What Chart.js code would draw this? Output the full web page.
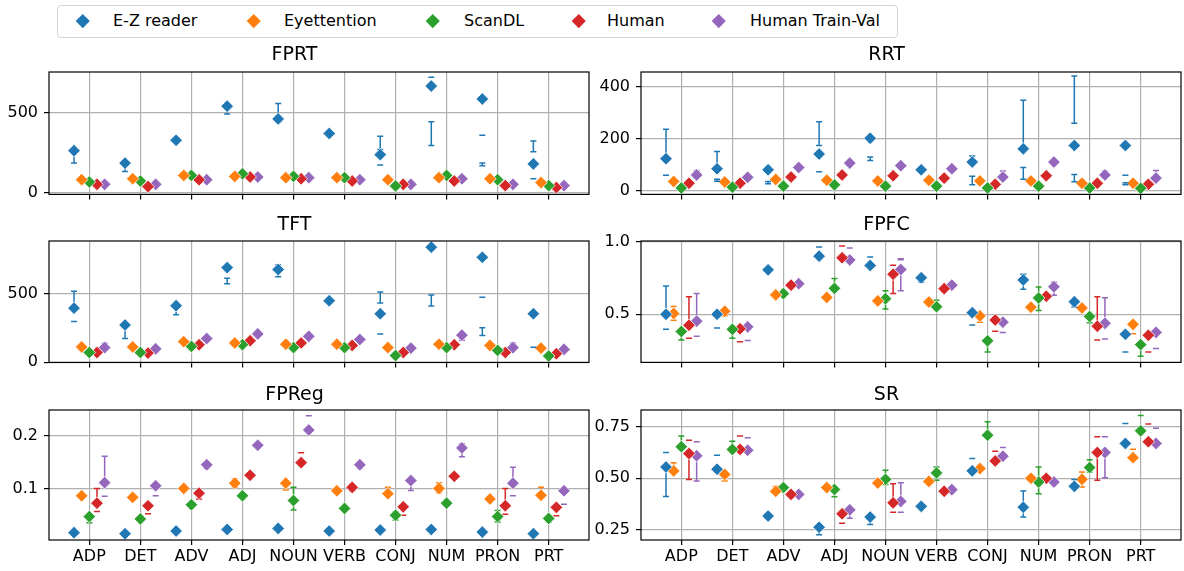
<!DOCTYPE html>
<html lang="en">
<head>
<meta charset="UTF-8" />
<title>Reading measures by POS</title>
<script src="https://cdn.jsdelivr.net/npm/chart.js"></script>
<style>
  body { margin: 0; background: #fff; font-family: "DejaVu Sans", sans-serif; }
  .wrap { position: relative; width: 1184px; height: 571px; overflow: hidden; }
  canvas { position: absolute; }
  .legend {
    position: absolute; left: 57px; top: 5px; width: 839px; height: 31px;
    border: 1px solid #d5d5d5; border-radius: 4px; background: #fff;
  }
  .legend .mk { position: absolute; top: 10px; width: 9.5px; height: 9.5px; transform: rotate(45deg); }
  .legend .lb { position: absolute; top: 5px; font-size: 16px; line-height: 20px; color: #000; white-space: nowrap; }
</style>
</head>
<body>
<div class="wrap">
  <div class="legend" id="legend"></div>
  <canvas id="fprt"  width="600" height="166" style="left:0;top:44px"></canvas>
  <canvas id="rrt"   width="592" height="166" style="left:592px;top:44px"></canvas>
  <canvas id="tft"   width="600" height="164" style="left:0;top:214px"></canvas>
  <canvas id="fpfc"  width="592" height="164" style="left:592px;top:214px"></canvas>
  <canvas id="fpreg" width="600" height="187" style="left:0;top:384px"></canvas>
  <canvas id="sr"    width="592" height="187" style="left:592px;top:384px"></canvas>
</div>

<script>
const categories = ['ADP', 'DET', 'ADV', 'ADJ', 'NOUN', 'VERB', 'CONJ', 'NUM', 'PRON', 'PRT'];
const seriesNames = ['E-Z reader', 'Eyettention', 'ScanDL', 'Human', 'Human Train-Val'];
const seriesColors = ['#1f77b4', '#ff7f0e', '#2ca02c', '#d62728', '#9467bd'];
const seriesOffsets = [-0.3, -0.15, 0, 0.15, 0.3];
const n = null;

// rows follow seriesNames; error entries are lists of [low, high] segments (low == high: lone cap)
const fprtTicks = [0, 500];
const fprtTickLabels = ['0', '500'];
const fprtValues = [
  [262, 184, 327, 541, 461, 370, 237, 667, 586, 179],
  [80, 86, 107, 101, 93, 93, 80, 93, 86, 62],
  [66, 72, 107, 117, 101, 93, 41, 107, 80, 43],
  [51, 37, 80, 97, 86, 72, 51, 72, 43, 31],
  [51, 51, 80, 97, 93, 80, 51, 86, 51, 43]
];
const fprtErrors = [
  [[[185, 262]], [[132, 184]], n, [[492, 541]], [[440, 558]], [[352, 370]], [[270, 352], [173, 173]], [[722, 722], [294, 444]], [[358, 358], [167, 185]], [[255, 323], [86, 86]]],
  n, n, n, n
];

const rrtTicks = [0, 200, 400];
const rrtTickLabels = ['0', '200', '400'];
const rrtValues = [
  [123, 84, 80, 141, 202, 80, 110, 161, 174, 174],
  [35, 33, 43, 40, 37, 40, 37, 37, 28, 28],
  [10, 13, 17, 22, 17, 17, 10, 17, 10, 9],
  [28, 28, 52, 60, 57, 48, 24, 57, 28, 24],
  [60, 51, 89, 106, 96, 84, 52, 110, 60, 48]
];
const rrtErrors = [
  [[[123, 237], [59, 59]], [[84, 151], [36, 44]], [[26, 35]], [[174, 266], [73, 73]], [[116, 130]], n, [[110, 133], [22, 55]], [[161, 349], [44, 89]], [[260, 443], [34, 62]], [[59, 59], [22, 30]]],
  n, n, n,
  [[[60, 77]], n, n, n, n, n, [[52, 75]], n, [[60, 75]], [[48, 77]]]
];

const tftTicks = [0, 500];
const tftTickLabels = ['0', '500'];
const tftValues = [
  [394, 271, 412, 690, 676, 448, 353, 839, 765, 353],
  [111, 111, 149, 140, 131, 131, 106, 131, 122, 102],
  [70, 70, 115, 127, 106, 106, 48, 106, 86, 45],
  [70, 66, 127, 156, 140, 122, 70, 127, 70, 61],
  [106, 97, 172, 206, 188, 165, 102, 197, 106, 93]
];
const tftErrors = [
  [[[394, 518], [296, 296]], [[172, 271]], [[346, 412]], [[572, 613]], [[624, 708]], n, [[432, 511], [206, 206]], [[409, 489]], [[473, 473], [195, 251]], [[109, 109]]],
  n, n, n,
  [[[95, 138]], n, n, n, n, n, n, [[160, 197]], [[106, 140]], n]
];

const fpfcTicks = [0.5, 1.0];
const fpfcTickLabels = ['0.5', '1.0'];
const fpfcValues = [
  [0.50, 0.50, 0.805, 0.899, 0.835, 0.751, 0.511, 0.736, 0.586, 0.363],
  [0.506, 0.521, 0.633, 0.616, 0.592, 0.584, 0.489, 0.549, 0.543, 0.431],
  [0.382, 0.397, 0.642, 0.678, 0.607, 0.552, 0.318, 0.612, 0.485, 0.292],
  [0.425, 0.401, 0.70, 0.888, 0.775, 0.676, 0.461, 0.624, 0.418, 0.356],
  [0.453, 0.414, 0.71, 0.873, 0.807, 0.70, 0.446, 0.689, 0.438, 0.376]
];
const fpfcErrors = [
  [[[0.5, 0.695], [0.397, 0.397]], [[0.406, 0.406]], n, [[0.961, 0.961]], [[0.893, 0.893]], [[0.72, 0.751]], [[0.427, 0.427]], [[0.672, 0.775]], [[0.55, 0.586]], [[0.242, 0.242]]],
  [[[0.459, 0.554]], [[0.49, 0.53]], n, n, [[0.57, 0.6]], n, [[0.446, 0.489]], n, n, [[0.367, 0.367]]],
  [[[0.324, 0.382]], [[0.335, 0.397]], [[0.63, 0.66]], [[0.678, 0.745]], [[0.536, 0.661]], [[0.552, 0.597]], [[0.242, 0.318]], [[0.526, 0.687]], [[0.442, 0.485]], [[0.212, 0.292]]],
  [[[0.425, 0.62], [0.335, 0.335]], [[0.311, 0.311]], n, [[0.968, 0.968]], [[0.642, 0.775], [0.837, 0.837]], n, [[0.384, 0.384]], n, [[0.418, 0.62], [0.324, 0.324]], [[0.242, 0.242]]],
  [[[0.453, 0.642], [0.35, 0.35]], [[0.32, 0.32]], n, [[0.955, 0.955]], [[0.661, 0.807], [0.875, 0.882]], n, [[0.376, 0.376]], [[0.63, 0.72]], [[0.438, 0.614], [0.33, 0.33]], [[0.266, 0.266]]]
];

const fpregTicks = [0.1, 0.2];
const fpregTickLabels = ['0.1', '0.2'];
const fpregValues = [
  [0.016, 0.014, 0.019, 0.022, 0.024, 0.019, 0.021, 0.022, 0.017, 0.014],
  [0.086, 0.083, 0.100, 0.110, 0.110, 0.0955, 0.090, 0.100, 0.080, 0.087],
  [0.0465, 0.042, 0.069, 0.086, 0.077, 0.062, 0.049, 0.072, 0.0465, 0.043],
  [0.072, 0.067, 0.091, 0.125, 0.149, 0.102, 0.065, 0.123, 0.067, 0.064],
  [0.111, 0.105, 0.145, 0.182, 0.211, 0.145, 0.115, 0.177, 0.110, 0.0955]
];
const fpregErrors = [
  n,
  [n, n, n, [[0.102, 0.118]], [[0.097, 0.116]], n, [[0.086, 0.102]], [[0.092, 0.111]], n, [[0.087, 0.102]]],
  [[[0.035, 0.047]], n, n, n, [[0.059, 0.102]], n, [[0.04, 0.055]], n, [[0.036, 0.058]], [[0.036, 0.043]]],
  [[[0.072, 0.1], [0.056, 0.056]], [[0.052, 0.052]], [[0.08, 0.091]], n, [[0.168, 0.168]], [[0.095, 0.102]], [[0.049, 0.049]], n, [[0.067, 0.1], [0.051, 0.051]], [[0.048, 0.048]]],
  [[[0.111, 0.161], [0.085, 0.085]], [[0.086, 0.086]], [[0.138, 0.145]], n, [[0.238, 0.238]], [[0.138, 0.145]], [[0.096, 0.115]], [[0.16, 0.185]], [[0.110, 0.140], [0.086, 0.086]], [[0.07, 0.07]]]
];

const srTicks = [0.25, 0.5, 0.75];
const srTickLabels = ['0.25', '0.50', '0.75'];
const srValues = [
  [0.555, 0.544, 0.317, 0.263, 0.312, 0.364, 0.536, 0.360, 0.461, 0.669],
  [0.536, 0.519, 0.437, 0.455, 0.477, 0.485, 0.547, 0.50, 0.495, 0.60],
  [0.653, 0.640, 0.455, 0.446, 0.495, 0.526, 0.709, 0.482, 0.552, 0.730],
  [0.62, 0.640, 0.422, 0.328, 0.381, 0.437, 0.584, 0.50, 0.625, 0.677],
  [0.609, 0.636, 0.422, 0.347, 0.388, 0.445, 0.607, 0.482, 0.625, 0.669]
];
const srErrors = [
  [[[0.412, 0.555], [0.625, 0.625]], [[0.612, 0.612]], n, [[0.227, 0.263]], [[0.276, 0.312]], [[0.35, 0.375]], [[0.596, 0.596]], [[0.312, 0.438]], [[0.461, 0.494]], [[0.766, 0.766]]],
  [[[0.536, 0.575]], [[0.487, 0.519]], [[0.437, 0.46]], n, n, n, n, n, [[0.458, 0.531]], [[0.641, 0.641]]],
  [[[0.653, 0.705]], [[0.64, 0.68]], n, [[0.41, 0.446]], [[0.47, 0.539]], [[0.49, 0.555]], [[0.709, 0.774]], [[0.425, 0.555]], [[0.53, 0.59]], [[0.804, 0.804]]],
  [[[0.494, 0.62], [0.685, 0.685]], [[0.705, 0.705]], n, [[0.282, 0.282]], [[0.381, 0.474], [0.336, 0.336]], n, [[0.631, 0.631]], n, [[0.49, 0.625], [0.701, 0.701]], [[0.763, 0.763]]],
  [[[0.487, 0.609], [0.677, 0.677]], [[0.696, 0.696]], n, [[0.307, 0.347]], [[0.388, 0.479], [0.336, 0.336]], n, [[0.649, 0.649]], n, [[0.503, 0.625], [0.701, 0.701]], [[0.742, 0.742]]]
];

const FONT = '"DejaVu Sans", sans-serif';
Chart.defaults.font.family = FONT;
Chart.defaults.color = '#000';

// legend (html, so it can span both columns)
const legendDiamondX = [83, 254, 433, 579, 719];
const legendTextX = [113, 284, 464, 607, 750];
const legend = document.getElementById('legend');
seriesNames.forEach((name, i) => {
  const mk = document.createElement('span');
  mk.className = 'mk';
  mk.style.left = (legendDiamondX[i] - 58 - 4.75) + 'px';
  mk.style.background = seriesColors[i];
  legend.appendChild(mk);
  const lb = document.createElement('span');
  lb.className = 'lb';
  lb.style.left = (legendTextX[i] - 58) + 'px';
  lb.textContent = name;
  legend.appendChild(lb);
});

// error bars are drawn just before each series' markers, like matplotlib's errorbar
function errorBarPlugin(errors) {
  return {
    id: 'errorBars',
    beforeDatasetDraw(chart, args) {
      const rows = errors[args.index];
      if (!rows) return;
      const xs = chart.scales.x, ys = chart.scales.y, ctx = chart.ctx;
      ctx.save();
      ctx.strokeStyle = seriesColors[args.index];
      ctx.lineWidth = 1.5;
      rows.forEach((segs, i) => {
        if (!segs) return;
        const px = xs.getPixelForValue(i + seriesOffsets[args.index]);
        segs.forEach(([lo, hi]) => {
          const y1 = ys.getPixelForValue(lo), y2 = ys.getPixelForValue(hi);
          ctx.beginPath();
          ctx.moveTo(px, y1); ctx.lineTo(px, y2);
          ctx.moveTo(px - 3, y1); ctx.lineTo(px + 3, y1);
          ctx.moveTo(px - 3, y2); ctx.lineTo(px + 3, y2);
          ctx.stroke();
        });
      });
      ctx.restore();
    }
  };
}

const framePlugin = {
  id: 'frame',
  afterDatasetsDraw(chart) {
    const a = chart.chartArea, ctx = chart.ctx;
    ctx.save();
    ctx.strokeStyle = '#000';
    ctx.lineWidth = 1.2;
    ctx.strokeRect(a.left, a.top, a.right - a.left, a.bottom - a.top);
    ctx.restore();
  }
};

function makePanel(id, title, values, errors, yMin, yMax, yTicks, yLabels, opt) {
  const ctx = document.getElementById(id).getContext('2d');
  new Chart(ctx, {
    type: 'scatter',
    data: {
      datasets: values.map((row, s) => ({
        label: seriesNames[s],
        data: row.map((v, i) => ({ x: i + seriesOffsets[s], y: v })),
        pointStyle: 'rectRot',
        pointRadius: 6.3,
        pointBorderWidth: 1,
        backgroundColor: seriesColors[s],
        borderColor: 'rgba(255,255,255,0.75)'
      }))
    },
    options: {
      responsive: false,
      animation: false,
      events: [],
      devicePixelRatio: 1,
      layout: { autoPadding: false, padding: { left: 0, right: opt.padRight, top: 0, bottom: 0 } },
      plugins: {
        legend: { display: false },
        tooltip: { enabled: false },
        title: {
          display: true,
          text: title,
          color: '#000',
          font: { size: 19, weight: 'normal', family: FONT, lineHeight: 1.2 },
          padding: { top: 0, bottom: opt.titleGap }
        }
      },
      scales: {
        x: {
          type: 'linear',
          min: -0.79,
          max: 9.79,
          afterBuildTicks: s => { s.ticks = categories.map((c, i) => ({ value: i })); },
          afterFit: s => { s.height = opt.xHeight; },
          ticks: {
            display: opt.xLabels,
            autoSkip: false,
            maxRotation: 0,
            padding: 2,
            font: { size: 16 },
            callback: (v, i) => categories[i]
          },
          grid: { color: '#b0b0b0', lineWidth: 1.2, tickLength: 5, tickColor: '#000', tickWidth: 1.2 },
          border: { display: false }
        },
        y: {
          type: 'linear',
          min: yMin,
          max: yMax,
          afterBuildTicks: s => { s.ticks = yTicks.map(v => ({ value: v })); },
          afterFit: s => { s.width = 49; },
          ticks: {
            padding: 6,
            font: { size: 16 },
            callback: (v, i) => yLabels[i]
          },
          grid: { color: '#b0b0b0', lineWidth: 1.2, tickLength: 5, tickColor: '#000', tickWidth: 1.2 },
          border: { display: false }
        }
      }
    },
    plugins: [errorBarPlugin(errors), framePlugin]
  });
}

const leftCol = { padRight: 11 };
const rightCol = { padRight: 3 };
makePanel('fprt', 'FPRT', fprtValues, fprtErrors, -12, 755, fprtTicks, fprtTickLabels,
  { ...leftCol, titleGap: 5.2, xHeight: 8, xLabels: false });
makePanel('rrt', 'RRT', rrtValues, rrtErrors, -15, 458, rrtTicks, rrtTickLabels,
  { ...rightCol, titleGap: 5.2, xHeight: 8, xLabels: false });
makePanel('tft', 'TFT', tftValues, tftErrors, -2, 884, tftTicks, tftTickLabels,
  { ...leftCol, titleGap: 4.2, xHeight: 8, xLabels: false });
makePanel('fpfc', 'FPFC', fpfcValues, fpfcErrors, 0.17, 1.003, fpfcTicks, fpfcTickLabels,
  { ...rightCol, titleGap: 4.2, xHeight: 8, xLabels: false });
makePanel('fpreg', 'FPReg', fpregValues, fpregErrors, 0.002, 0.249, fpregTicks, fpregTickLabels,
  { ...leftCol, titleGap: 3.2, xHeight: 31, xLabels: true });
makePanel('sr', 'SR', srValues, srErrors, 0.201, 0.831, srTicks, srTickLabels,
  { ...rightCol, titleGap: 3.2, xHeight: 31, xLabels: true });
</script>
</body>
</html>
